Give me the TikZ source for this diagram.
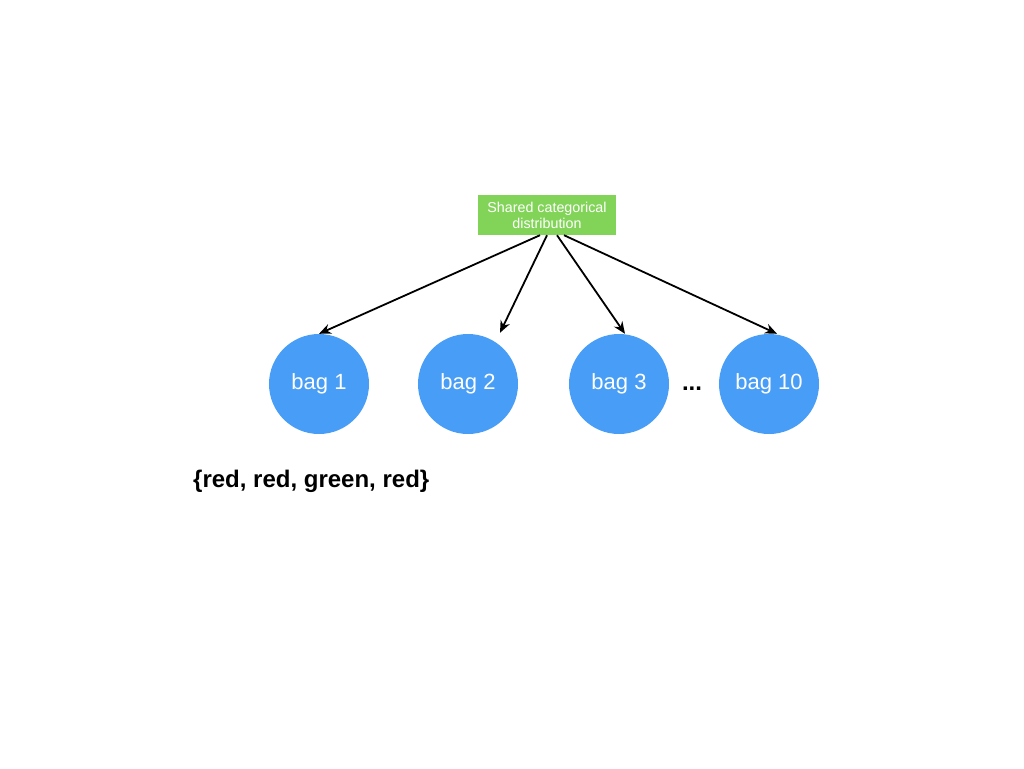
\documentclass[tikz,border=0pt]{standalone}
\usepackage{fontspec}
\setmainfont{Liberation Sans}
\usetikzlibrary{arrows.meta,calc}
\definecolor{boxgreen}{RGB}{130,212,88}
\definecolor{bagblue}{RGB}{72,157,246}
\tikzset{
  bag/.style={circle,fill=bagblue,minimum size=100pt,inner sep=0pt,text=white,font=\fontsize{22}{26}\selectfont},
  dist/.style={rectangle,fill=boxgreen,minimum width=138pt,minimum height=40pt,inner sep=0pt,text=white,align=center,font=\fontsize{14.3}{16}\selectfont},
  arr/.style={line width=1.8pt,-{Stealth[length=12pt,width=10pt]}}
}
\begin{document}
\begin{tikzpicture}[x=1pt,y=-1pt]
\useasboundingbox (0,0) rectangle (1024,768);
\node[dist] (d) at (547,215) {Shared categorical\\distribution};
\node[bag] (b1) at (319,384) {bag 1};
\node[bag] (b2) at (468,384) {bag 2};
\node[bag] (b3) at (619,384) {bag 3};
\node[bag] (b10) at (769,384) {bag 10};
\node[font=\bfseries\fontsize{24}{28}\selectfont] (dots) at (692,389) {...};
\node[font=\bfseries\fontsize{24}{28}\selectfont,anchor=west,inner sep=0pt] (set) at (193,481) {\{red, red, green, red\}};
\draw[arr] ($(d.south)+(-7,0)$) -- (b1.north);
\draw[arr] (d.south) -- ($(b2.north)+(32,-1)$);
\draw[arr] ($(d.south)+(10,0)$) -- ($(b3.north)+(6,0)$);
\draw[arr] ($(d.south)+(17,0)$) -- ($(b10.north)+(8,0)$);
\end{tikzpicture}
\end{document}
